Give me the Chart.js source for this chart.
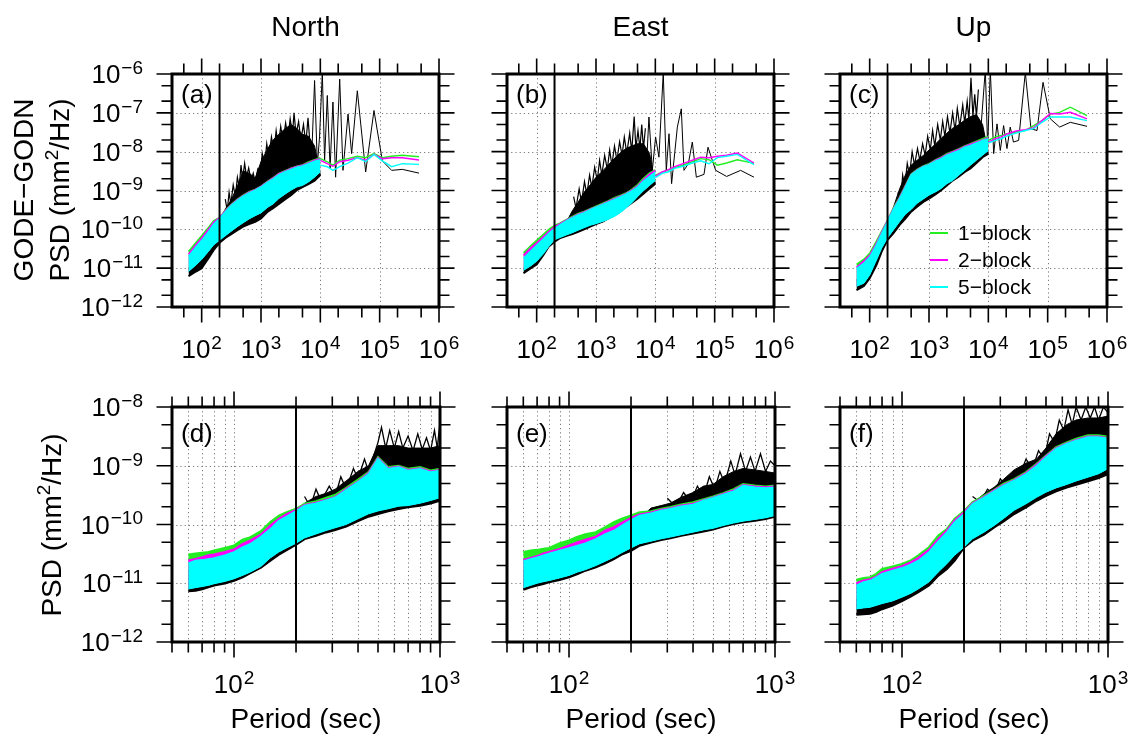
<!DOCTYPE html>
<html>
<head>
<meta charset="utf-8">
<script src="https://cdn.jsdelivr.net/npm/chart.js@4.4.1/dist/chart.umd.min.js"></script>
<style>
  body { margin: 0; background: #fff; width: 1130px; height: 735px; position: relative; overflow: hidden; }
  canvas { position: absolute; }
</style>
</head>
<body>
<script>
// ---- periods (s) ----
const topBandPeriods = [60, 80, 100, 130, 160, 200, 250, 320, 400, 500, 630, 800, 1000, 1300, 1600, 2000, 2500, 3200, 4000, 5000, 6300, 8000, 10000];
const topTailPeriods = [10000, 13100, 16300, 21200, 29300, 42000, 58100, 80200, 111000, 159000, 241000, 460000];
const bottomBandPeriods = [60, 65, 70, 75, 80, 90, 100, 110, 120, 135, 150, 165, 180, 200, 220, 250, 280, 310, 350, 400, 450, 500, 560, 630, 700, 800, 900, 1000];

// ---- (a) North, full band ----
const aBlackLo = [6.2e-12, 8.2e-12, 1.0e-11, 1.8e-11, 2.95e-11, 4.5e-11, 6.0e-11, 7.6e-11, 9.5e-11, 1.17e-10, 1.37e-10, 1.55e-10, 1.9e-10, 2.85e-10, 3.5e-10, 4.5e-10, 5.8e-10, 7.6e-10, 1.02e-9, 1.23e-9, 1.45e-9, 1.8e-9, 2.5e-9];
const aBlackHi = [1.0e-11, 1.5e-11, 2.2e-11, 4.4e-11, 9.5e-11, 1.74e-10, 3.3e-10, 6.0e-10, 1.3e-9, 3.2e-9, 2.8e-9, 2.1e-9, 5.5e-9, 1.2e-8, 2.0e-8, 2.8e-8, 3.8e-8, 5.0e-8, 4.0e-8, 2.8e-8, 2.5e-8, 1.4e-8, 2.5e-9];
const aGreenHi = [2.7e-11, 4.6e-11, 6.8e-11, 1.12e-10, 1.68e-10, 2.0e-10, 3.1e-10, 4.5e-10, 6.0e-10, 7.6e-10, 9.3e-10, 1.07e-9, 1.3e-9, 1.75e-9, 2.15e-9, 2.75e-9, 3.2e-9, 3.75e-9, 4.2e-9, 4.55e-9, 5.4e-9, 6.2e-9, 7.0e-9];
const aMagentaHi = [2.3e-11, 4.0e-11, 6.0e-11, 1.0e-10, 1.55e-10, 2.0e-10, 3.0e-10, 4.35e-10, 5.8e-10, 7.4e-10, 9.0e-10, 1.05e-9, 1.27e-9, 1.7e-9, 2.1e-9, 2.7e-9, 3.1e-9, 3.7e-9, 4.15e-9, 4.5e-9, 5.1e-9, 6.0e-9, 6.6e-9];
const aCyanHi = [2.0e-11, 3.5e-11, 5.2e-11, 8.7e-11, 1.37e-10, 1.9e-10, 2.85e-10, 4.2e-10, 5.6e-10, 7.2e-10, 8.6e-10, 1.02e-9, 1.23e-9, 1.65e-9, 2.0e-9, 2.55e-9, 3.0e-9, 3.5e-9, 4.0e-9, 4.3e-9, 4.9e-9, 5.7e-9, 6.2e-9];
const aCyanLo = [8.2e-12, 1.2e-11, 1.67e-11, 2.7e-11, 4.0e-11, 5.2e-11, 6.8e-11, 9.1e-11, 1.17e-10, 1.47e-10, 1.85e-10, 2.25e-10, 2.65e-10, 3.7e-10, 4.5e-10, 6.2e-10, 7.9e-10, 1.02e-9, 1.23e-9, 1.35e-9, 1.65e-9, 2.2e-9, 3.0e-9];
const aSpikePeriods = [250, 270, 290, 310, 340, 370, 400, 430, 460, 490, 530, 570, 620, 680, 740, 800, 880, 960, 1050, 1150, 1250, 1350, 1500, 1650, 1800, 1950, 2150, 2350, 2600, 2850, 3100, 3400, 3600, 3900, 4300, 4700, 5200, 5700, 6200, 6700];
const aSpikes = [6.0e-10, 3.0e-10, 9.0e-10, 4.5e-10, 1.4e-9, 7.0e-10, 2.2e-9, 1.2e-9, 4.5e-9, 2.0e-9, 5.0e-9, 2.2e-9, 3.8e-9, 1.8e-9, 2.8e-9, 1.6e-9, 3.5e-9, 2.5e-9, 9.0e-9, 4.5e-9, 1.6e-8, 7.0e-9, 2.4e-8, 1.0e-8, 3.5e-8, 1.4e-8, 4.5e-8, 1.8e-8, 5.5e-8, 2.2e-8, 7.0e-8, 2.8e-8, 1.0e-7, 2.8e-8, 6.0e-8, 2.0e-8, 5.0e-8, 1.6e-8, 7.5e-8, 1.5e-8];
const aBlackTailPeriods = [7000, 8000, 8900, 9700, 10800, 11800, 13100, 14600, 16300, 18100, 21200, 24100, 29300, 33700, 42000, 58100, 80200, 111000, 159000, 241000, 460000];
const aBlackTail = [3.3e-9, 6.8e-7, 4.5e-9, 2.4e-8, 1.1e-6, 6.0e-9, 2.8e-7, 3.7e-9, 1.9e-7, 2.2e-9, 7.4e-7, 3.3e-9, 9.3e-8, 8.9e-9, 3.7e-7, 3.0e-9, 1.15e-7, 5.8e-9, 3.3e-9, 3.5e-9, 2.8e-9];
const aGreenTail = [6.6e-9, 5.5e-9, 4.5e-9, 6.0e-9, 6.6e-9, 7.6e-9, 7.0e-9, 8.9e-9, 7.0e-9, 7.6e-9, 8.1e-9, 7.4e-9];
const aMagentaTail = [6.0e-9, 4.9e-9, 4.2e-9, 5.5e-9, 6.0e-9, 7.0e-9, 6.0e-9, 8.5e-9, 6.6e-9, 7.0e-9, 7.0e-9, 6.1e-9];
const aCyanTail = [4.5e-9, 4.1e-9, 3.3e-9, 4.1e-9, 5.1e-9, 7.0e-9, 5.5e-9, 8.5e-9, 5.8e-9, 4.1e-9, 4.9e-9, 4.7e-9];

// ---- (b) East, full band ----
const bBlackLo = [7.4e-12, 1.0e-11, 1.25e-11, 2.2e-11, 3.6e-11, 4.8e-11, 6.0e-11, 6.8e-11, 7.6e-11, 8.6e-11, 1.0e-10, 1.17e-10, 1.37e-10, 1.58e-10, 1.9e-10, 2.35e-10, 2.85e-10, 3.8e-10, 4.8e-10, 6.1e-10, 8.3e-10, 1.12e-9, 1.5e-9];
const bBlackHi = [1.0e-11, 1.4e-11, 1.8e-11, 3.3e-11, 5.4e-11, 7.9e-11, 1.17e-10, 1.58e-10, 3.0e-10, 5.0e-10, 9.0e-10, 1.4e-9, 2.2e-9, 3.2e-9, 4.5e-9, 6.5e-9, 9.0e-9, 1.2e-8, 1.4e-8, 1.6e-8, 1.6e-8, 9.0e-9, 1.5e-9];
const bGreenHi = [2.5e-11, 3.8e-11, 5.2e-11, 7.5e-11, 1.0e-10, 1.27e-10, 1.47e-10, 1.8e-10, 2.15e-10, 2.55e-10, 2.9e-10, 3.4e-10, 3.95e-10, 4.7e-10, 5.4e-10, 6.4e-10, 7.3e-10, 8.6e-10, 1.07e-9, 1.4e-9, 2.05e-9, 2.85e-9, 3.4e-9];
const bMagentaHi = [2.15e-11, 3.4e-11, 4.5e-11, 6.5e-11, 8.8e-11, 1.17e-10, 1.4e-10, 1.74e-10, 2.05e-10, 2.45e-10, 2.8e-10, 3.3e-10, 3.8e-10, 4.5e-10, 5.2e-10, 6.1e-10, 7.0e-10, 8.3e-10, 1.02e-9, 1.3e-9, 1.9e-9, 2.65e-9, 3.3e-9];
const bCyanHi = [1.8e-11, 2.8e-11, 3.9e-11, 5.7e-11, 7.9e-11, 1.05e-10, 1.33e-10, 1.68e-10, 2.0e-10, 2.35e-10, 2.7e-10, 3.2e-10, 3.7e-10, 4.35e-10, 5.0e-10, 5.8e-10, 6.75e-10, 8.0e-10, 9.8e-10, 1.23e-9, 1.75e-9, 2.3e-9, 3.0e-9];
const bCyanLo = [8.8e-12, 1.15e-11, 1.5e-11, 2.35e-11, 3.6e-11, 5.4e-11, 6.2e-11, 7.2e-11, 8.2e-11, 9.5e-11, 1.1e-10, 1.27e-10, 1.4e-10, 1.6e-10, 1.8e-10, 2.1e-10, 2.6e-10, 3.5e-10, 4.8e-10, 6.9e-10, 9.8e-10, 1.35e-9, 1.8e-9];
const bSpikePeriods = [420, 460, 520, 570, 640, 700, 780, 850, 950, 1050, 1150, 1250, 1400, 1550, 1700, 1850, 2050, 2250, 2500, 2750, 3000, 3300, 3700, 4000, 4400, 4700, 5100, 5500, 5900, 6300, 6800];
const bSpikes = [7.0e-10, 3.5e-10, 1.1e-9, 5.0e-10, 1.7e-9, 8.0e-10, 2.5e-9, 1.2e-9, 4.0e-9, 1.8e-9, 6.0e-9, 2.5e-9, 8.0e-9, 3.5e-9, 1.1e-8, 4.5e-9, 1.4e-8, 6.0e-9, 1.8e-8, 8.0e-9, 2.4e-8, 9.0e-9, 3.0e-8, 1.0e-8, 8.0e-8, 1.2e-8, 3.5e-8, 1.2e-8, 5.0e-8, 1.2e-8, 4.0e-8];
const bBlackTailPeriods = [7000, 7800, 8900, 10100, 11500, 13600, 15300, 17000, 18800, 23500, 27400, 30400, 36000, 42000, 49100, 66100, 77200, 104000, 159000, 274000, 460000];
const bBlackTail = [3.0e-9, 7.8e-8, 3.3e-9, 2.4e-8, 7.2e-9, 1.1e-6, 3.3e-9, 2.9e-8, 1.5e-9, 4.3e-8, 1.27e-7, 3.3e-9, 4.9e-9, 1.77e-8, 2.2e-9, 2.6e-9, 1.3e-8, 3.3e-9, 2.3e-9, 3.3e-9, 2.2e-9];
const bGreenTail = [2.45e-9, 3.0e-9, 3.3e-9, 3.9e-9, 4.5e-9, 5.5e-9, 6.6e-9, 6.2e-9, 4.5e-9, 5.1e-9, 6.2e-9, 5.0e-9];
const bMagentaTail = [2.3e-9, 3.0e-9, 3.4e-9, 4.1e-9, 4.9e-9, 6.0e-9, 7.2e-9, 7.0e-9, 7.6e-9, 8.1e-9, 9.2e-9, 5.1e-9];
const bCyanTail = [2.15e-9, 2.75e-9, 3.0e-9, 3.7e-9, 4.2e-9, 5.1e-9, 5.8e-9, 4.9e-9, 7.0e-9, 7.6e-9, 8.5e-9, 4.6e-9];

// ---- (c) Up, full band ----
const cBlackLo = [2.7e-12, 3.5e-12, 5.5e-12, 1.2e-11, 2.7e-11, 5.4e-11, 7.9e-11, 1.3e-10, 1.9e-10, 2.85e-10, 3.8e-10, 5.1e-10, 6.2e-10, 8.0e-10, 1.02e-9, 1.35e-9, 1.8e-9, 2.3e-9, 3.0e-9, 3.7e-9, 5.1e-9, 7.2e-9, 8.9e-9];
const cBlackHi = [5.0e-12, 6.8e-12, 1.0e-11, 2.7e-11, 6.0e-11, 1.4e-10, 3.6e-10, 1.1e-9, 2.5e-9, 4.5e-9, 6.0e-9, 8.0e-9, 1.1e-8, 1.6e-8, 2.2e-8, 3.0e-8, 4.0e-8, 5.0e-8, 6.5e-8, 8.0e-8, 9.0e-8, 5.0e-8, 8.9e-9];
const cGreenHi = [1.25e-11, 1.7e-11, 2.4e-11, 5.0e-11, 9.1e-11, 1.74e-10, 3.5e-10, 6.9e-10, 1.35e-9, 2.65e-9, 3.5e-9, 4.3e-9, 4.9e-9, 6.2e-9, 7.2e-9, 8.9e-9, 1.02e-8, 1.2e-8, 1.4e-8, 1.6e-8, 1.87e-8, 2.15e-8, 2.45e-8];
const cMagentaHi = [1.05e-11, 1.55e-11, 2.15e-11, 4.4e-11, 8.5e-11, 1.68e-10, 3.3e-10, 6.6e-10, 1.3e-9, 2.55e-9, 3.4e-9, 4.15e-9, 4.7e-9, 6.0e-9, 7.0e-9, 8.5e-9, 9.8e-9, 1.15e-8, 1.37e-8, 1.55e-8, 1.77e-8, 2.0e-8, 2.3e-8];
const cCyanHi = [9.8e-12, 1.35e-11, 1.93e-11, 4.0e-11, 7.9e-11, 1.58e-10, 3.2e-10, 6.2e-10, 1.23e-9, 2.5e-9, 3.3e-9, 4.1e-9, 4.6e-9, 5.8e-9, 6.6e-9, 8.1e-9, 9.3e-9, 1.07e-8, 1.3e-8, 1.45e-8, 1.67e-8, 1.95e-8, 2.15e-8];
const cCyanLo = [3.4e-12, 4.1e-12, 6.6e-12, 1.6e-11, 3.3e-11, 6.0e-11, 9.5e-11, 1.58e-10, 2.45e-10, 3.25e-10, 4.7e-10, 6.0e-10, 7.6e-10, 9.3e-10, 1.12e-9, 1.5e-9, 1.8e-9, 2.5e-9, 3.3e-9, 4.5e-9, 6.0e-9, 8.1e-9, 1.07e-8];
const cSpikePeriods = [300, 330, 360, 390, 430, 470, 520, 570, 640, 700, 780, 860, 950, 1050, 1150, 1250, 1400, 1550, 1700, 1850, 2050, 2250, 2500, 2750, 3000, 3300, 3700, 4000, 4400, 4700, 5100, 5500, 5900, 6300, 6800];
const cSpikes = [9.0e-10, 5.0e-10, 2.5e-9, 1.2e-9, 5.0e-9, 2.5e-9, 1.0e-8, 4.5e-9, 1.2e-8, 6.0e-9, 1.6e-8, 8.0e-9, 2.5e-8, 1.1e-8, 3.5e-8, 1.4e-8, 5.0e-8, 2.0e-8, 6.0e-8, 2.5e-8, 8.0e-8, 3.0e-8, 1.0e-7, 3.5e-8, 1.3e-7, 4.5e-8, 1.6e-7, 5.5e-8, 2.0e-7, 6.5e-8, 8.0e-7, 8.0e-8, 3.0e-7, 8.0e-8, 4.0e-7];
const cBlackTailPeriods = [7000, 8900, 9740, 10800, 12300, 14000, 15900, 18100, 20600, 23400, 26500, 32400, 42000, 52300, 66100, 83500, 111000, 159000, 241000, 460000];
const cBlackTail = [1.0e-8, 1.3e-6, 1.3e-8, 1.3e-6, 8.9e-9, 5.2e-8, 1.07e-8, 4.7e-8, 1.2e-8, 4.3e-8, 1.77e-8, 1.95e-8, 1.1e-6, 3.9e-8, 3.5e-8, 6.1e-7, 7.0e-8, 4.3e-8, 5.7e-8, 4.5e-8];
const cGreenTail = [1.95e-8, 2.4e-8, 2.6e-8, 2.9e-8, 3.2e-8, 3.5e-8, 4.7e-8, 6.3e-8, 9.3e-8, 1.03e-7, 1.4e-7, 8.5e-8];
const cMagentaTail = [1.77e-8, 2.15e-8, 2.4e-8, 2.9e-8, 3.4e-8, 3.7e-8, 4.15e-8, 6.3e-8, 9.6e-8, 9.3e-8, 1.03e-7, 7.0e-8];
const cCyanTail = [1.67e-8, 1.95e-8, 2.15e-8, 2.6e-8, 3.0e-8, 3.5e-8, 3.9e-8, 5.7e-8, 7.8e-8, 7.8e-8, 7.8e-8, 6.3e-8];

// ---- (d) North, short periods ----
const dBlackLo = [7.4e-12, 7.5e-12, 8.0e-12, 8.6e-12, 9.2e-12, 1.0e-11, 1.11e-11, 1.27e-11, 1.5e-11, 1.85e-11, 2.44e-11, 3.1e-11, 3.7e-11, 4.6e-11, 5.7e-11, 6.5e-11, 7.4e-11, 8.1e-11, 9.3e-11, 1.15e-10, 1.37e-10, 1.52e-10, 1.7e-10, 1.85e-10, 1.98e-10, 2.1e-10, 2.3e-10, 2.56e-10];
const dBlackHi = [1.65e-11, 1.76e-11, 1.88e-11, 1.95e-11, 2.05e-11, 2.3e-11, 2.6e-11, 3.2e-11, 3.6e-11, 4.7e-11, 6.9e-11, 9.0e-11, 1.17e-10, 1.52e-10, 2.3e-10, 3.0e-10, 3.4e-10, 4.0e-10, 5.5e-10, 8.0e-10, 1.0e-9, 2.2e-9, 2.2e-9, 2.2e-9, 2.0e-9, 2.0e-9, 2.0e-9, 2.2e-9];
const dGreenHi = [3.1e-11, 3.2e-11, 3.3e-11, 3.4e-11, 3.6e-11, 4.0e-11, 4.4e-11, 5.5e-11, 6.1e-11, 7.7e-11, 1.1e-10, 1.42e-10, 1.62e-10, 1.85e-10, 2.25e-10, 2.5e-10, 2.85e-10, 3.2e-10, 4.2e-10, 5.8e-10, 7.8e-10, 1.4e-9, 9.5e-10, 1.0e-9, 8.9e-10, 9.5e-10, 8.3e-10, 8.9e-10];
const dMagentaHi = [2.44e-11, 2.6e-11, 2.78e-11, 3.0e-11, 3.1e-11, 3.4e-11, 3.75e-11, 4.7e-11, 5.35e-11, 6.7e-11, 9.6e-11, 1.25e-10, 1.5e-10, 1.78e-10, 2.15e-10, 2.35e-10, 2.65e-10, 2.95e-10, 4.0e-10, 5.4e-10, 7.5e-10, 1.35e-9, 9.1e-10, 9.7e-10, 8.5e-10, 9.1e-10, 8.0e-10, 8.5e-10];
const dCyanHi = [2.2e-11, 2.44e-11, 2.5e-11, 2.6e-11, 2.7e-11, 3.0e-11, 3.4e-11, 4.1e-11, 4.7e-11, 6.2e-11, 8.4e-11, 1.17e-10, 1.37e-10, 1.7e-10, 2.1e-10, 2.3e-10, 2.6e-10, 2.9e-10, 3.9e-10, 5.3e-10, 7.3e-10, 1.32e-9, 8.9e-10, 9.5e-10, 8.3e-10, 8.9e-10, 7.8e-10, 8.3e-10];
const dCyanLo = [8.0e-12, 8.4e-12, 8.8e-12, 9.2e-12, 9.8e-12, 1.07e-11, 1.19e-11, 1.36e-11, 1.55e-11, 1.93e-11, 2.7e-11, 3.4e-11, 4.0e-11, 4.8e-11, 5.9e-11, 6.9e-11, 7.9e-11, 8.8e-11, 1.0e-10, 1.25e-10, 1.52e-10, 1.7e-10, 1.85e-10, 2.05e-10, 2.1e-10, 2.3e-10, 2.56e-10, 2.85e-10];
const dSpikePeriods = [220, 235, 250, 265, 290, 310, 330, 350, 380, 400, 430, 450, 480, 500, 520, 545, 570, 600, 630, 660, 700, 740, 780, 820, 860, 900, 940, 970, 1000];
const dSpikes = [3.0e-10, 2.0e-10, 4.0e-10, 2.5e-10, 4.5e-10, 3.0e-10, 6.5e-10, 4.0e-10, 9.0e-10, 6.0e-10, 1.3e-9, 8.0e-10, 1.6e-9, 2.5e-9, 4.5e-9, 2.0e-9, 4.0e-9, 2.0e-9, 3.8e-9, 2.0e-9, 3.2e-9, 1.8e-9, 3.5e-9, 1.9e-9, 3.0e-9, 1.8e-9, 4.0e-9, 2.0e-9, 5.5e-9];

// ---- (e) East, short periods ----
const eBlackLo = [7.8e-12, 8.6e-12, 9.2e-12, 9.8e-12, 1.05e-11, 1.14e-11, 1.27e-11, 1.45e-11, 1.65e-11, 1.88e-11, 2.2e-11, 2.6e-11, 3.1e-11, 3.6e-11, 4.4e-11, 5.0e-11, 5.5e-11, 5.9e-11, 6.5e-11, 7.1e-11, 7.7e-11, 8.3e-11, 9.3e-11, 1.03e-10, 1.1e-10, 1.17e-10, 1.25e-10, 1.37e-10];
const eBlackHi = [1.65e-11, 1.76e-11, 1.88e-11, 2.0e-11, 2.14e-11, 2.44e-11, 2.7e-11, 3.0e-11, 3.25e-11, 3.85e-11, 4.7e-11, 5.7e-11, 6.75e-11, 8.4e-11, 1.25e-10, 1.9e-10, 2.1e-10, 2.3e-10, 2.9e-10, 3.5e-10, 4.5e-10, 4.8e-10, 6.5e-10, 8.0e-10, 9.0e-10, 8.5e-10, 8.0e-10, 7.5e-10];
const eGreenHi = [3.4e-11, 3.6e-11, 3.7e-11, 3.85e-11, 4.0e-11, 4.8e-11, 5.35e-11, 6.2e-11, 6.8e-11, 7.4e-11, 9.0e-11, 1.1e-10, 1.25e-10, 1.42e-10, 1.62e-10, 1.68e-10, 1.85e-10, 1.98e-10, 2.2e-10, 2.4e-10, 2.7e-10, 3.0e-10, 3.4e-10, 4.0e-10, 4.9e-10, 4.6e-10, 4.45e-10, 4.6e-10];
const eMagentaHi = [2.5e-11, 2.7e-11, 2.9e-11, 3.2e-11, 3.4e-11, 3.85e-11, 4.4e-11, 5.0e-11, 5.5e-11, 6.2e-11, 7.9e-11, 9.0e-11, 1.07e-10, 1.3e-10, 1.48e-10, 1.6e-10, 1.78e-10, 1.9e-10, 2.1e-10, 2.25e-10, 2.6e-10, 2.9e-10, 3.3e-10, 3.8e-10, 4.7e-10, 4.45e-10, 4.3e-10, 4.45e-10];
const eCyanHi = [2.37e-11, 2.58e-11, 2.78e-11, 3.0e-11, 3.2e-11, 3.6e-11, 4.0e-11, 4.4e-11, 4.8e-11, 5.7e-11, 6.9e-11, 7.9e-11, 9.6e-11, 1.2e-10, 1.42e-10, 1.56e-10, 1.74e-10, 1.85e-10, 2.05e-10, 2.2e-10, 2.56e-10, 2.85e-10, 3.25e-10, 3.7e-10, 4.6e-10, 4.3e-10, 4.2e-10, 4.3e-10];
const eCyanLo = [8.4e-12, 9.2e-12, 1.0e-11, 1.06e-11, 1.11e-11, 1.23e-11, 1.36e-11, 1.55e-11, 1.7e-11, 2.0e-11, 2.37e-11, 2.78e-11, 3.3e-11, 4.0e-11, 4.7e-11, 5.2e-11, 5.7e-11, 6.1e-11, 6.7e-11, 7.4e-11, 8.1e-11, 8.6e-11, 9.6e-11, 1.06e-10, 1.14e-10, 1.22e-10, 1.3e-10, 1.42e-10];
const eSpikePeriods = [300, 330, 360, 390, 420, 450, 480, 510, 540, 570, 610, 640, 680, 720, 760, 800, 850, 900, 950, 1000];
const eSpikes = [2.8e-10, 2.0e-10, 3.5e-10, 2.4e-10, 4.5e-10, 3.0e-10, 6.5e-10, 4.0e-10, 8.0e-10, 5.0e-10, 1.2e-9, 7.0e-10, 1.6e-9, 8.0e-10, 1.4e-9, 8.0e-10, 1.6e-9, 8.0e-10, 1.2e-9, 1.0e-9];

// ---- (f) Up, short periods ----
const fBlackLo = [2.95e-12, 3.0e-12, 3.05e-12, 3.3e-12, 3.65e-12, 4.2e-12, 5.0e-12, 5.95e-12, 7.1e-12, 9.2e-12, 1.36e-11, 1.76e-11, 2.44e-11, 4.1e-11, 5.35e-11, 6.75e-11, 9.0e-11, 1.13e-10, 1.52e-10, 1.98e-10, 2.56e-10, 3.1e-10, 3.7e-10, 4.3e-10, 4.8e-10, 5.5e-10, 6.2e-10, 7.3e-10];
const fBlackHi = [5.4e-12, 5.8e-12, 6.2e-12, 7.0e-12, 8.0e-12, 9.2e-12, 1.05e-11, 1.27e-11, 1.45e-11, 1.88e-11, 2.78e-11, 4.1e-11, 6.1e-11, 1.03e-10, 2.3e-10, 3.3e-10, 4.3e-10, 5.8e-10, 8.5e-10, 1.1e-9, 1.3e-9, 2.0e-9, 3.5e-9, 5.0e-9, 6.0e-9, 6.5e-9, 6.5e-9, 7.0e-9];
const fGreenHi = [1.15e-11, 1.23e-11, 1.27e-11, 1.45e-11, 1.76e-11, 1.93e-11, 2.14e-11, 2.44e-11, 3.0e-11, 4.1e-11, 6.5e-11, 8.4e-11, 1.25e-10, 1.7e-10, 2.4e-10, 3.1e-10, 3.9e-10, 4.9e-10, 5.9e-10, 7.8e-10, 1.08e-9, 1.5e-9, 2.08e-9, 2.5e-9, 2.9e-9, 3.3e-9, 3.3e-9, 3.1e-9];
const fMagentaHi = [1.0e-11, 1.11e-11, 1.17e-11, 1.3e-11, 1.55e-11, 1.76e-11, 1.95e-11, 2.27e-11, 2.7e-11, 3.7e-11, 5.7e-11, 7.9e-11, 1.17e-10, 1.62e-10, 2.3e-10, 2.95e-10, 3.8e-10, 4.7e-10, 5.7e-10, 7.5e-10, 1.04e-9, 1.45e-9, 2.0e-9, 2.4e-9, 2.75e-9, 3.15e-9, 3.15e-9, 2.95e-9];
const fCyanHi = [9.2e-12, 1.05e-11, 1.11e-11, 1.27e-11, 1.45e-11, 1.65e-11, 1.83e-11, 2.1e-11, 2.44e-11, 3.4e-11, 5.2e-11, 7.4e-11, 1.1e-10, 1.52e-10, 2.25e-10, 2.9e-10, 3.7e-10, 4.6e-10, 5.6e-10, 7.3e-10, 1.0e-9, 1.4e-9, 1.95e-9, 2.37e-9, 2.7e-9, 3.1e-9, 3.1e-9, 2.9e-9];
const fCyanLo = [3.65e-12, 3.8e-12, 3.9e-12, 4.2e-12, 4.5e-12, 5.0e-12, 5.8e-12, 6.7e-12, 8.0e-12, 1.05e-11, 1.55e-11, 2.14e-11, 3.0e-11, 4.1e-11, 5.7e-11, 7.4e-11, 9.6e-11, 1.25e-10, 1.74e-10, 2.25e-10, 2.9e-10, 3.55e-10, 4.2e-10, 4.8e-10, 5.5e-10, 6.4e-10, 7.3e-10, 8.9e-10];
const fSpikePeriods = [220, 240, 260, 280, 300, 320, 350, 370, 400, 430, 460, 490, 520, 550, 580, 610, 640, 670, 700, 740, 780, 820, 860, 900, 950, 1000];
const fSpikes = [3.0e-10, 2.4e-10, 4.0e-10, 3.3e-10, 6.0e-10, 4.5e-10, 8.0e-10, 6.5e-10, 1.3e-9, 9.0e-10, 1.8e-9, 1.3e-9, 3.5e-9, 2.5e-9, 6.0e-9, 4.0e-9, 9.0e-9, 5.0e-9, 1.0e-8, 6.0e-9, 1.0e-8, 6.5e-9, 1.0e-8, 6.0e-9, 1.0e-8, 8.0e-9];

// ---- axes ----
const topPeriodTicks = [50, 100, 200, 500, 1e3, 2e3, 5e3, 1e4, 2e4, 5e4, 1e5, 2e5, 5e5, 1e6];
const topPsdTicks = [1e-12, 2e-12, 5e-12, 1e-11, 2e-11, 5e-11, 1e-10, 2e-10, 5e-10, 1e-9, 2e-9, 5e-9, 1e-8, 2e-8, 5e-8, 1e-7, 2e-7, 5e-7, 1e-6];
const bottomPeriodTicks = [50, 60, 70, 80, 90, 100, 200, 300, 400, 500, 600, 700, 800, 900, 1000];
const bottomPsdTicks = [1e-12, 2e-12, 5e-12, 1e-11, 2e-11, 5e-11, 1e-10, 2e-10, 5e-10, 1e-9, 2e-9, 5e-9, 1e-8];
const topGridPeriods = [100, 1e3, 1e4, 1e5];
const topGridPsd = [1e-11, 1e-10, 1e-9, 1e-8, 1e-7];
const bottomGridPeriods = [60, 70, 80, 90, 100, 300, 400, 500, 600, 700, 800, 900];
const bottomGridPsd = [1e-11, 1e-10, 1e-9];
const topPeriodLabels = [2, 3, 4, 5, 6];        // exponents of 10
const topPsdLabels = [-12, -11, -10, -9, -8, -7, -6];
const bottomPeriodLabels = [2, 3];
const bottomPsdLabels = [-12, -11, -10, -9, -8];
const columnTitles = ['North', 'East', 'Up'];
const legendLabels = ['1\u2212block', '2\u2212block', '5\u2212block'];

const FONT = '"Liberation Sans", Arial, Helvetica, sans-serif';
const BLACK = '#000000', GREEN = '#22ee22', MAGENTA = '#ff00ff', CYAN = '#00ffff';
const M = { l: 110, r: 30, t: 30, b: 62 };

function isDecade(v) { const l = Math.log10(v); return Math.abs(l - Math.round(l)) < 1e-6; }
function pts(xs, ys) { return xs.map((x, i) => ({ x: x, y: ys[i] })); }

function band(xs, lo, hi, color, order, hiWidth, loWidth) {
  return [
    { data: pts(xs, hi), borderColor: color, backgroundColor: color, borderWidth: hiWidth, fill: '+1', order: order, clip: 0 },
    { data: pts(xs, lo), borderColor: color, backgroundColor: color, borderWidth: loWidth, fill: false, order: order, clip: 0 }
  ];
}
function trace(xs, ys, color, order, w) {
  return { data: pts(xs, ys), borderColor: color, borderWidth: w, fill: false, order: order, clip: 0 };
}

// "10" with a raised exponent
function powLabel(ctx, x, y, exp, size, align) {
  const base = '10', sup = exp < 0 ? '\u2212' + (-exp) : String(exp);
  const ss = Math.round(size * 0.72);
  ctx.font = size + 'px ' + FONT;
  const bw = ctx.measureText(base).width;
  ctx.font = ss + 'px ' + FONT;
  const sw = ctx.measureText(sup).width;
  const total = bw + 1 + sw;
  const x0 = align === 'right' ? x - total : x - total / 2;
  ctx.textAlign = 'left';
  ctx.textBaseline = 'alphabetic';
  ctx.font = size + 'px ' + FONT;
  ctx.fillText(base, x0, y);
  ctx.font = ss + 'px ' + FONT;
  ctx.fillText(sup, x0 + bw + 1, y - size * 0.35);
}

const panelFrame = {
  id: 'panelFrame',
  beforeDatasetsDraw(chart, args, o) {
    const { ctx, chartArea: ca } = chart;
    const sx = chart.scales.x, sy = chart.scales.y;
    ctx.save();
    ctx.strokeStyle = '#7a7a7a';
    ctx.lineWidth = 1;
    ctx.setLineDash([1.2, 3]);
    ctx.beginPath();
    o.gridX.forEach(v => {
      const p = Math.round(sx.getPixelForValue(v)) + 0.5;
      ctx.moveTo(p, ca.top); ctx.lineTo(p, ca.bottom);
    });
    o.gridY.forEach(v => {
      const p = Math.round(sy.getPixelForValue(v)) + 0.5;
      ctx.moveTo(ca.left, p); ctx.lineTo(ca.right, p);
    });
    ctx.stroke();
    ctx.restore();
  },
  afterDatasetsDraw(chart, args, o) {
    const { ctx, chartArea: ca } = chart;
    const sx = chart.scales.x, sy = chart.scales.y;
    ctx.save();
    ctx.strokeStyle = '#000';
    ctx.fillStyle = '#000';

    // 200 s marker
    const vx = sx.getPixelForValue(o.vline);
    ctx.lineWidth = 2;
    ctx.beginPath(); ctx.moveTo(vx, ca.top); ctx.lineTo(vx, ca.bottom); ctx.stroke();

    // ticks outside all four sides
    ctx.lineWidth = 1.6;
    ctx.beginPath();
    o.xTicks.forEach(v => {
      const p = sx.getPixelForValue(v), len = isDecade(v) ? 14 : 9;
      ctx.moveTo(p, ca.top); ctx.lineTo(p, ca.top - 1.5 - len);
      ctx.moveTo(p, ca.bottom); ctx.lineTo(p, ca.bottom + 1.5 + len);
    });
    o.yTicks.forEach(v => {
      const p = sy.getPixelForValue(v), len = isDecade(v) ? 14 : 9;
      ctx.moveTo(ca.left, p); ctx.lineTo(ca.left - 1.5 - len, p);
      ctx.moveTo(ca.right, p); ctx.lineTo(ca.right + 1.5 + len, p);
    });
    ctx.stroke();

    // frame
    ctx.lineWidth = 3;
    ctx.strokeRect(ca.left, ca.top, ca.right - ca.left, ca.bottom - ca.top);

    // tick labels
    o.xLabels.forEach(e => powLabel(ctx, sx.getPixelForValue(Math.pow(10, e)), ca.bottom + 51, e, o.labelSize, 'center'));
    if (o.yLabels) {
      o.yLabels.forEach(e => powLabel(ctx, ca.left - 29, sy.getPixelForValue(Math.pow(10, e)) + 9, e, o.labelSize, 'right'));
    }

    // panel letter
    ctx.font = '26px ' + FONT;
    ctx.textAlign = 'left';
    ctx.textBaseline = 'alphabetic';
    ctx.fillText(o.letter, ca.left + 9, ca.top + o.letterDy);

    // legend
    if (o.legend) {
      const cols = [GREEN, MAGENTA, CYAN], ys = [159, 186, 213];
      ctx.font = '21px ' + FONT;
      ctx.textBaseline = 'middle';
      ctx.lineWidth = 2;
      legendLabels.forEach((t, i) => {
        const y = ca.top + ys[i];
        ctx.strokeStyle = cols[i];
        ctx.beginPath(); ctx.moveTo(ca.left + 90, y); ctx.lineTo(ca.left + 108, y); ctx.stroke();
        ctx.fillText(t, ca.left + 118, y + 1);
      });
    }
    ctx.restore();
  }
};

function makePanel(rect, xRange, yRange, datasets, frame) {
  const cv = document.createElement('canvas');
  cv.width = rect.w + M.l + M.r;
  cv.height = rect.h + M.t + M.b;
  cv.style.left = (rect.x - M.l) + 'px';
  cv.style.top = (rect.y - M.t) + 'px';
  document.body.appendChild(cv);
  new Chart(cv, {
    type: 'line',
    data: { datasets: datasets },
    options: {
      responsive: false,
      animation: false,
      devicePixelRatio: 1,
      layout: { padding: { left: M.l, right: M.r, top: M.t, bottom: M.b } },
      elements: { point: { radius: 0 }, line: { tension: 0 } },
      scales: {
        x: { type: 'logarithmic', min: xRange[0], max: xRange[1], display: false },
        y: { type: 'logarithmic', min: yRange[0], max: yRange[1], display: false }
      },
      plugins: { legend: { display: false }, tooltip: { enabled: false }, panelFrame: frame }
    },
    plugins: [panelFrame]
  });
}

function topSets(bLo, bHi, spX, sp, gHi, mHi, cHi, cLo, btX, bt, gt, mt, ct) {
  return [].concat(
    band(topBandPeriods, bLo, bHi, BLACK, 40, 1, 2),
    [trace(spX, sp, BLACK, 40, 1.2), trace(btX, bt, BLACK, 40, 1)],
    band(topBandPeriods, cLo, gHi, GREEN, 30, 1.5, 0),   // lower edge hidden under cyan
    [trace(topTailPeriods, gt, GREEN, 30, 1.4)],
    band(topBandPeriods, cLo, mHi, MAGENTA, 20, 1.5, 0),
    [trace(topTailPeriods, mt, MAGENTA, 20, 1.4)],
    band(topBandPeriods, cLo, cHi, CYAN, 10, 1.5, 1),
    [trace(topTailPeriods, ct, CYAN, 10, 1.4)]
  );
}
function bottomSets(bLo, bHi, spX, sp, gHi, mHi, cHi, cLo) {
  return [].concat(
    band(bottomBandPeriods, bLo, bHi, BLACK, 40, 1, 2.5),
    [trace(spX, sp, BLACK, 40, 1.3)],
    band(bottomBandPeriods, cLo, gHi, GREEN, 30, 2, 0),
    band(bottomBandPeriods, cLo, mHi, MAGENTA, 20, 2, 0),
    band(bottomBandPeriods, cLo, cHi, CYAN, 10, 1.5, 1)
  );
}

const lefts = [172, 507, 840];
const topRange = [Math.pow(10, 1.5), 1e6], topPsd = [1e-12, 1e-6];
const botRange = [50, 1000], botPsd = [1e-12, 1e-8];

const topData = [
  topSets(aBlackLo, aBlackHi, aSpikePeriods, aSpikes, aGreenHi, aMagentaHi, aCyanHi, aCyanLo, aBlackTailPeriods, aBlackTail, aGreenTail, aMagentaTail, aCyanTail),
  topSets(bBlackLo, bBlackHi, bSpikePeriods, bSpikes, bGreenHi, bMagentaHi, bCyanHi, bCyanLo, bBlackTailPeriods, bBlackTail, bGreenTail, bMagentaTail, bCyanTail),
  topSets(cBlackLo, cBlackHi, cSpikePeriods, cSpikes, cGreenHi, cMagentaHi, cCyanHi, cCyanLo, cBlackTailPeriods, cBlackTail, cGreenTail, cMagentaTail, cCyanTail)
];
const bottomData = [
  bottomSets(dBlackLo, dBlackHi, dSpikePeriods, dSpikes, dGreenHi, dMagentaHi, dCyanHi, dCyanLo),
  bottomSets(eBlackLo, eBlackHi, eSpikePeriods, eSpikes, eGreenHi, eMagentaHi, eCyanHi, eCyanLo),
  bottomSets(fBlackLo, fBlackHi, fSpikePeriods, fSpikes, fGreenHi, fMagentaHi, fCyanHi, fCyanLo)
];

// page-level text
const page = document.createElement('canvas');
page.width = 1130; page.height = 735;
page.style.left = '0px'; page.style.top = '0px';
document.body.appendChild(page);
const pc = page.getContext('2d');
pc.fillStyle = '#000';

function rich(ctx, parts, x, y, align) {
  let total = 0;
  parts.forEach(p => { ctx.font = p.s + 'px ' + FONT; p.w = ctx.measureText(p.t).width; total += p.w; });
  let cx = align === 'center' ? x - total / 2 : x;
  ctx.textAlign = 'left';
  ctx.textBaseline = 'alphabetic';
  parts.forEach(p => { ctx.font = p.s + 'px ' + FONT; ctx.fillText(p.t, cx, y - (p.dy || 0)); cx += p.w; });
}
function psdParts() {
  return [{ t: 'PSD (mm', s: 28 }, { t: '2', s: 19, dy: 11 }, { t: '/Hz)', s: 28 }];
}
function rotated(ctx, parts, bx, cy) {
  ctx.save();
  ctx.translate(bx, cy);
  ctx.rotate(-Math.PI / 2);
  rich(ctx, parts, 0, 0, 'center');
  ctx.restore();
}

columnTitles.forEach((t, i) => rich(pc, [{ t: t, s: 28 }], lefts[i] + 133.5, 36, 'center'));
columnTitles.forEach((t, i) => rich(pc, [{ t: 'Period (sec)', s: 28 }], lefts[i] + 134, 728, 'center'));
rotated(pc, [{ t: 'GODE\u2212GODN', s: 28 }], 33, 190);
rotated(pc, psdParts(), 69, 190);
rotated(pc, psdParts(), 61, 525);

const letters = ['(a)', '(b)', '(c)', '(d)', '(e)', '(f)'];
lefts.forEach((x, i) => {
  makePanel({ x: x, y: 74, w: 267, h: 233 }, topRange, topPsd, topData[i], {
    xTicks: topPeriodTicks, yTicks: topPsdTicks, gridX: topGridPeriods, gridY: topGridPsd,
    xLabels: topPeriodLabels, yLabels: i === 0 ? topPsdLabels : null, labelSize: 26,
    letter: letters[i], letterDy: 29, vline: 200, legend: i === 2
  });
  makePanel({ x: x, y: 407, w: 268, h: 235 }, botRange, botPsd, bottomData[i], {
    xTicks: bottomPeriodTicks, yTicks: bottomPsdTicks, gridX: bottomGridPeriods, gridY: bottomGridPsd,
    xLabels: bottomPeriodLabels, yLabels: i === 0 ? bottomPsdLabels : null, labelSize: 26,
    letter: letters[i + 3], letterDy: 35, vline: 200, legend: false
  });
});
</script>
</body>
</html>
